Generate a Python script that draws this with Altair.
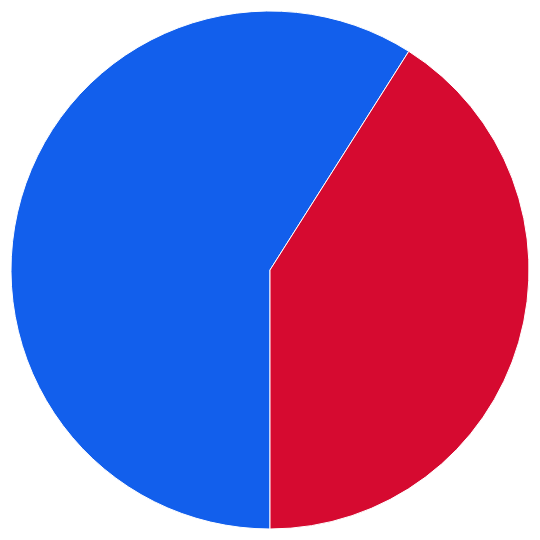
import math
import altair as alt
import pandas as pd

labels = ["Blue", "Red"]
shares = [59.0, 41.0]
colors = ["#125FEC", "#D60A30"]

data = pd.DataFrame({"label": labels, "share": shares, "rank": [0, 1]})

chart = alt.Chart(data).mark_arc(radius=259, stroke="white", strokeWidth=1).encode(
    theta=alt.Theta("share:Q", stack=True,
                    scale=alt.Scale(range=[math.pi, 3 * math.pi])),
    color=alt.Color("label:N",
                    scale=alt.Scale(domain=labels, range=colors),
                    legend=None),
    order=alt.Order("rank:Q"),
).properties(
    width=524,
    height=524,
    padding=0,
).configure_view(
    stroke=None
)

chart.save("out.html", embed_options={"renderer": "svg", "actions": False})
